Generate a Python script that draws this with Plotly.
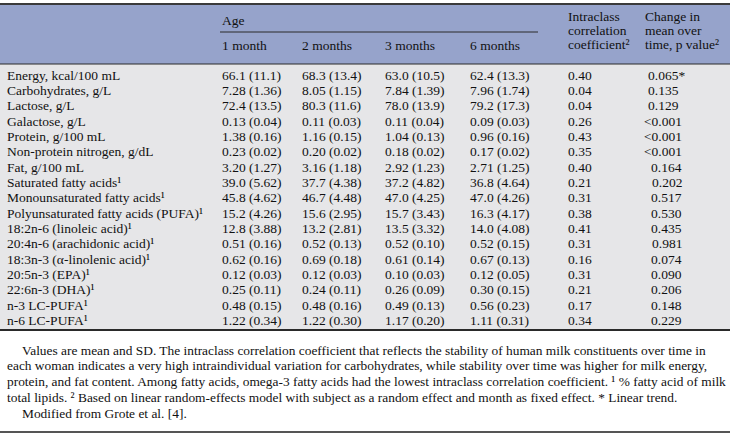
import plotly.graph_objects as go

labels = ["Energy, kcal/100 mL", "Carbohydrates, g/L", "Lactose, g/L", "Galactose, g/L",
          "Protein, g/100 mL", "Non-protein nitrogen, g/dL", "Fat, g/100 mL",
          "Saturated fatty acids", "Monounsaturated fatty acids",
          "Polyunsaturated fatty acids (PUFA)", "18:2n-6 (linoleic acid)",
          "20:4n-6 (arachidonic acid)", "18:3n-3 (α-linolenic acid)", "20:5n-3 (EPA)",
          "22:6n-3 (DHA)", "n-3 LC-PUFA", "n-6 LC-PUFA"]
fatty_acid = [False] * 7 + [True] * 10

month1 = ["66.1 (11.1)", "7.28 (1.36)", "72.4 (13.5)", "0.13 (0.04)", "1.38 (0.16)", "0.23 (0.02)",
          "3.20 (1.27)", "39.0 (5.62)", "45.8 (4.62)", "15.2 (4.26)", "12.8 (3.88)", "0.51 (0.16)",
          "0.62 (0.16)", "0.12 (0.03)", "0.25 (0.11)", "0.48 (0.15)", "1.22 (0.34)"]
month2 = ["68.3 (13.4)", "8.05 (1.15)", "80.3 (11.6)", "0.11 (0.03)", "1.16 (0.15)", "0.20 (0.02)",
          "3.16 (1.18)", "37.7 (4.38)", "46.7 (4.48)", "15.6 (2.95)", "13.2 (2.81)", "0.52 (0.13)",
          "0.69 (0.18)", "0.12 (0.03)", "0.24 (0.11)", "0.48 (0.16)", "1.22 (0.30)"]
month3 = ["63.0 (10.5)", "7.84 (1.39)", "78.0 (13.9)", "0.11 (0.04)", "1.04 (0.13)", "0.18 (0.02)",
          "2.92 (1.23)", "37.2 (4.82)", "47.0 (4.25)", "15.7 (3.43)", "13.5 (3.32)", "0.52 (0.10)",
          "0.61 (0.14)", "0.10 (0.03)", "0.26 (0.09)", "0.49 (0.13)", "1.17 (0.20)"]
month6 = ["62.4 (13.3)", "7.96 (1.74)", "79.2 (17.3)", "0.09 (0.03)", "0.96 (0.16)", "0.17 (0.02)",
          "2.71 (1.25)", "36.8 (4.64)", "47.0 (4.26)", "16.3 (4.17)", "14.0 (4.08)", "0.52 (0.15)",
          "0.67 (0.13)", "0.12 (0.05)", "0.30 (0.15)", "0.56 (0.23)", "1.11 (0.31)"]
icc = ["0.40", "0.04", "0.04", "0.26", "0.43", "0.35", "0.40", "0.21", "0.31", "0.38", "0.41",
       "0.31", "0.16", "0.31", "0.21", "0.17", "0.34"]
pval = ["0.065*", "0.135", "0.129", "<0.001", "<0.001", "<0.001", "0.164", "0.202", "0.517",
        "0.530", "0.435", "0.981", "0.074", "0.090", "0.206", "0.148", "0.229"]

age_cols = ["1 month", "2 months", "3 months", "6 months"]
footnotes = [
    "Values are mean and SD. The intraclass correlation coefficient that reflects the stability of human milk constituents over time in",
    "each woman indicates a very high intraindividual variation for carbohydrates, while stability over time was higher for milk energy,",
    "protein, and fat content. Among fatty acids, omega-3 fatty acids had the lowest intraclass correlation coefficient. ¹ % fatty acid of milk",
    "total lipids. ² Based on linear random-effects model with subject as a random effect and month as fixed effect. * Linear trend.",
    "Modified from Grote et al. [4].",
]

W, H = 738, 435
FONT = "Liberation Serif"
TXT = "#111111"
FS = 13.5

fig = go.Figure()
fig.update_layout(
    width=W, height=H, margin=dict(l=0, r=0, t=0, b=0),
    paper_bgcolor="white", plot_bgcolor="white", showlegend=False,
    xaxis=dict(range=[0, W], visible=False, fixedrange=True),
    yaxis=dict(range=[H, 0], visible=False, fixedrange=True),
    font=dict(family=FONT, size=FS, color=TXT),
)

right = 730
shapes = [
    dict(type="rect", x0=0, x1=right, y0=4, y1=64, fillcolor="#96a3cb", line=dict(width=0), layer="below"),
    dict(type="rect", x0=0, x1=right, y0=64, y1=330, fillcolor="#e6e6e8", line=dict(width=0), layer="below"),
    dict(type="line", x0=0, x1=right, y0=4, y1=4, line=dict(color="#3a3a3a", width=2)),
    dict(type="line", x0=0, x1=right, y0=64, y1=64, line=dict(color="#2a2a2a", width=1)),
    dict(type="line", x0=220, x1=538, y0=32, y1=32, line=dict(color="#2a2a2a", width=1)),
    dict(type="line", x0=0, x1=right, y0=330, y1=330, line=dict(color="#2a2a2a", width=2)),
    dict(type="line", x0=0, x1=right, y0=432, y1=432, line=dict(color="#555555", width=2)),
]
fig.update_layout(shapes=shapes)

ann = []
def add(x, y, text, anchor="left", size=FS):
    ann.append(dict(x=x, y=y, text=text, xref="x", yref="y", showarrow=False,
                    xanchor=anchor, yanchor="middle", font=dict(family=FONT, size=size, color=TXT)))

# header
add(220, 20, "Age")
col_x = [220, 300, 383, 468]
for cx, name in zip(col_x, age_cols):
    add(cx, 45, name)
for i, t in enumerate(["Intraclass", "correlation", "coefficient²"]):
    add(566, 16 + 14 * i, t)
for i, t in enumerate(["Change in", "mean over", "time, p value²"]):
    add(643, 16 + 14 * i, t)

# body
y0, dy = 75, 15.35
for i in range(len(labels)):
    y = y0 + dy * i
    add(5, y, labels[i] + ("¹" if fatty_acid[i] else ""))
    for cx, col in zip(col_x, [month1, month2, month3, month6]):
        add(cx, y, col[i])
    add(566, y, icc[i])
    if i < 3:
        add(646, y, pval[i])
    else:
        add(684, y, pval[i], anchor="right")

# footnotes
for i, t in enumerate(footnotes):
    x = 20 if i in (0, 4) else 5
    add(x, 350 + 15.8 * i, t, size=13.4)

fig.update_layout(annotations=ann)
fig.write_html("out.html", config={"displayModeBar": False},
               post_script="document.body.style.margin='0';document.body.style.overflow='hidden';")
